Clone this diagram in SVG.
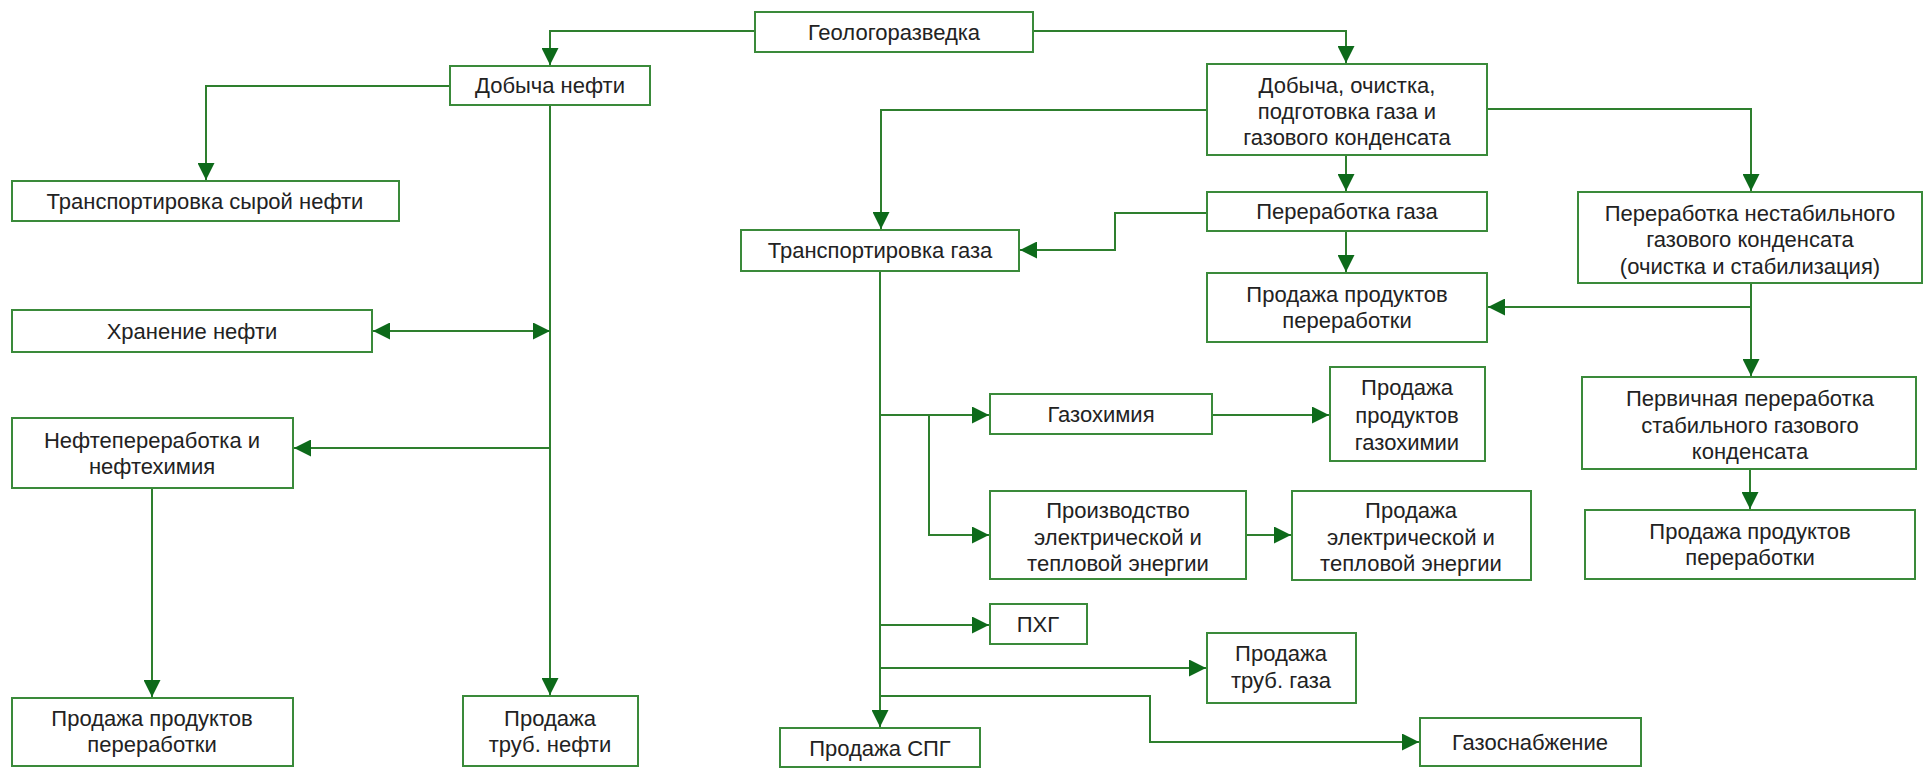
<svg xmlns="http://www.w3.org/2000/svg" width="1924" height="768" viewBox="0 0 1924 768">
<style>
.box{fill:#fff;stroke:#3a8a3a;stroke-width:2}
.t{font-family:"Liberation Sans",Arial,sans-serif;font-size:22px;fill:#222;text-anchor:middle}
.c{fill:none;stroke:#2e7f2e;stroke-width:2}
</style>
<defs>
<marker id="ah" markerUnits="userSpaceOnUse" markerWidth="17" markerHeight="17" refX="16" refY="8" orient="auto-start-reverse" viewBox="0 0 16 16">
<path d="M0,0 L16,8 L0,16 z" fill="#0d6a1a"/>
</marker>
</defs>
<rect width="1924" height="768" fill="#fff"/>
<g id="connectors">
<path class="c" d="M755,31 H550 V65" marker-end="url(#ah)"/>
<path class="c" d="M1033,31 H1346 V63" marker-end="url(#ah)"/>
<path class="c" d="M450,86 H206 V180" marker-end="url(#ah)"/>
<path class="c" d="M550,105 V695" marker-end="url(#ah)"/>
<path class="c" d="M373,331 H550" marker-start="url(#ah)" marker-end="url(#ah)"/>
<path class="c" d="M550,448 H294" marker-end="url(#ah)"/>
<path class="c" d="M152,488 V697" marker-end="url(#ah)"/>
<path class="c" d="M1207,110 H881 V229" marker-end="url(#ah)"/>
<path class="c" d="M1346,155 V191" marker-end="url(#ah)"/>
<path class="c" d="M1487,109 H1751 V191" marker-end="url(#ah)"/>
<path class="c" d="M1207,213 H1115 V250 H1020" marker-end="url(#ah)"/>
<path class="c" d="M1346,231 V272" marker-end="url(#ah)"/>
<path class="c" d="M1751,283 V376" marker-end="url(#ah)"/>
<path class="c" d="M1751,307 H1488" marker-end="url(#ah)"/>
<path class="c" d="M1750,469 V509" marker-end="url(#ah)"/>
<path class="c" d="M880,271 V727" marker-end="url(#ah)"/>
<path class="c" d="M880,415 H989" marker-end="url(#ah)"/>
<path class="c" d="M929,415 V535 H989" marker-end="url(#ah)"/>
<path class="c" d="M1212,415 H1329" marker-end="url(#ah)"/>
<path class="c" d="M1246,535 H1291" marker-end="url(#ah)"/>
<path class="c" d="M880,625 H989" marker-end="url(#ah)"/>
<path class="c" d="M880,668 H1206" marker-end="url(#ah)"/>
<path class="c" d="M880,696 H1150 V742 H1419" marker-end="url(#ah)"/>
</g>
<g id="geo"><rect class="box" x="755" y="12" width="278" height="40"/><text class="t" x="894" y="40">Геологоразведка</text></g>
<g id="oil"><rect class="box" x="450" y="66" width="200" height="39"/><text class="t" x="550" y="93">Добыча нефти</text></g>
<g id="gasmain"><rect class="box" x="1207" y="64" width="280" height="91"/><text class="t" x="1347" y="93">Добыча, очистка,</text><text class="t" x="1347" y="119">подготовка газа и</text><text class="t" x="1347" y="145">газового конденсата</text></g>
<g id="crude"><rect class="box" x="12" y="181" width="387" height="40"/><text class="t" x="205" y="209">Транспортировка сырой нефти</text></g>
<g id="storage"><rect class="box" x="12" y="310" width="360" height="42"/><text class="t" x="192" y="339">Хранение нефти</text></g>
<g id="refining"><rect class="box" x="12" y="418" width="281" height="70"/><text class="t" x="152" y="448">Нефтепереработка и</text><text class="t" x="152" y="474">нефтехимия</text></g>
<g id="saleleft"><rect class="box" x="12" y="698" width="281" height="68"/><text class="t" x="152" y="726">Продажа продуктов</text><text class="t" x="152" y="752">переработки</text></g>
<g id="saleoil"><rect class="box" x="463" y="696" width="175" height="70"/><text class="t" x="550" y="726">Продажа</text><text class="t" x="550" y="752">труб. нефти</text></g>
<g id="gastransport"><rect class="box" x="741" y="230" width="278" height="41"/><text class="t" x="880" y="258">Транспортировка газа</text></g>
<g id="gasproc"><rect class="box" x="1207" y="192" width="280" height="39"/><text class="t" x="1347" y="219">Переработка газа</text></g>
<g id="salemid"><rect class="box" x="1207" y="273" width="280" height="69"/><text class="t" x="1347" y="302">Продажа продуктов</text><text class="t" x="1347" y="328">переработки</text></g>
<g id="nestabil"><rect class="box" x="1578" y="192" width="344" height="91"/><text class="t" x="1750" y="221">Переработка нестабильного</text><text class="t" x="1750" y="247">газового конденсата</text><text class="t" x="1750" y="274">(очистка и стабилизация)</text></g>
<g id="pervich"><rect class="box" x="1582" y="377" width="334" height="92"/><text class="t" x="1750" y="406">Первичная переработка</text><text class="t" x="1750" y="433">стабильного газового</text><text class="t" x="1750" y="459">конденсата</text></g>
<g id="saleright"><rect class="box" x="1585" y="510" width="330" height="69"/><text class="t" x="1750" y="539">Продажа продуктов</text><text class="t" x="1750" y="565">переработки</text></g>
<g id="gazohim"><rect class="box" x="990" y="394" width="222" height="40"/><text class="t" x="1101" y="422">Газохимия</text></g>
<g id="salegazohim"><rect class="box" x="1330" y="367" width="155" height="94"/><text class="t" x="1407" y="395">Продажа</text><text class="t" x="1407" y="423">продуктов</text><text class="t" x="1407" y="450">газохимии</text></g>
<g id="power"><rect class="box" x="990" y="491" width="256" height="88"/><text class="t" x="1118" y="518">Производство</text><text class="t" x="1118" y="545">электрической и</text><text class="t" x="1118" y="571">тепловой энергии</text></g>
<g id="salepower"><rect class="box" x="1292" y="491" width="239" height="89"/><text class="t" x="1411" y="518">Продажа</text><text class="t" x="1411" y="545">электрической и</text><text class="t" x="1411" y="571">тепловой энергии</text></g>
<g id="phg"><rect class="box" x="990" y="604" width="97" height="40"/><text class="t" x="1038" y="632">ПХГ</text></g>
<g id="salegas"><rect class="box" x="1207" y="633" width="149" height="70"/><text class="t" x="1281" y="661">Продажа</text><text class="t" x="1281" y="688">труб. газа</text></g>
<g id="spg"><rect class="box" x="780" y="728" width="200" height="39"/><text class="t" x="880" y="756">Продажа СПГ</text></g>
<g id="gassupply"><rect class="box" x="1420" y="718" width="221" height="48"/><text class="t" x="1530" y="750">Газоснабжение</text></g>
</svg>
